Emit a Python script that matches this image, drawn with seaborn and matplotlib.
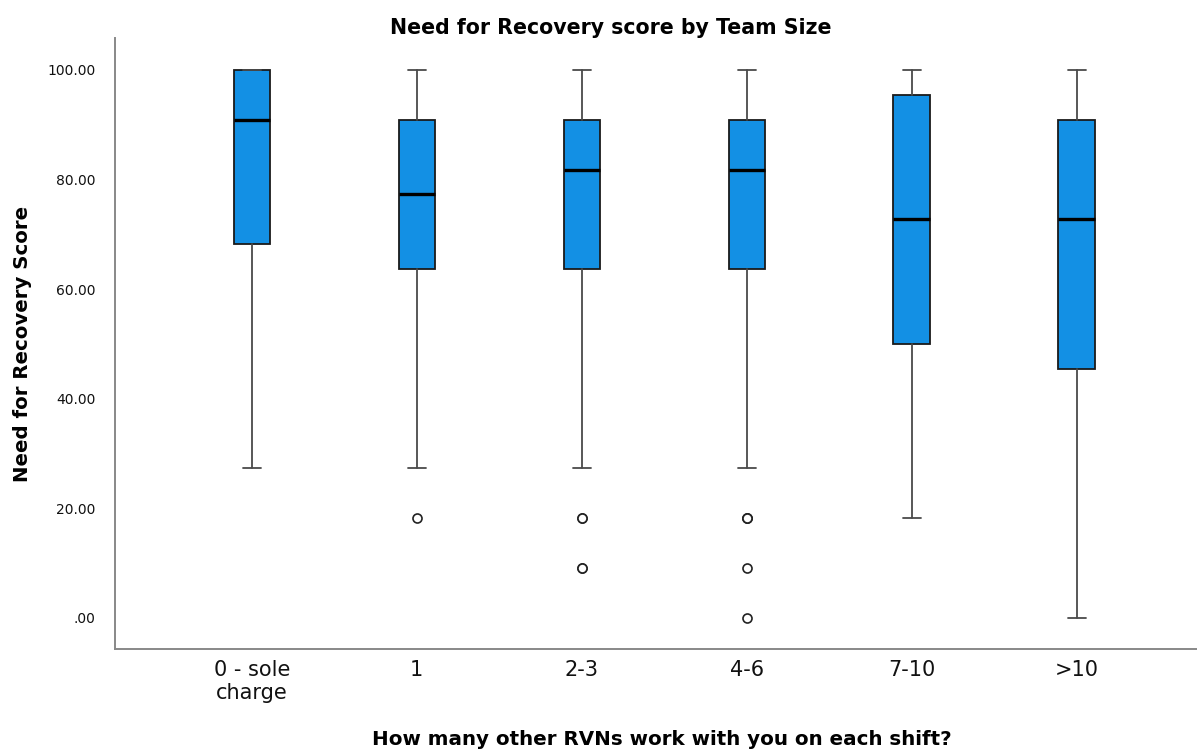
import matplotlib
matplotlib.use("Agg")
import matplotlib.pyplot as plt
import seaborn as sns

# Team-size groups and five-number summaries of the Need for Recovery score
categories = ["0 - sole\ncharge", "1", "2-3", "4-6", "7-10", ">10"]
whisker_low = [27.27, 27.27, 27.27, 27.27, 18.18, 0.00]
q1 = [68.18, 63.64, 63.64, 63.64, 50.00, 45.45]
median = [90.91, 77.27, 81.82, 81.82, 72.73, 72.73]
q3 = [100.00, 90.91, 90.91, 90.91, 95.45, 90.91]
whisker_high = [100.00, 100.00, 100.00, 100.00, 100.00, 100.00]
outliers = [
    [],
    [18.18],
    [18.18, 18.18, 9.09, 9.09],
    [18.18, 18.18, 18.18, 9.09, 0.00],
    [],
    [],
]
y_ticks = [0, 20, 40, 60, 80, 100]
y_tick_labels = [".00", "20.00", "40.00", "60.00", "80.00", "100.00"]

sns.set_theme(style="white")
plt.rcParams["font.family"] = ["DejaVu Sans"]
plt.rcParams["text.color"] = "black"

fig = plt.figure(figsize=(11.97, 7.49), dpi=100)
ax = fig.add_axes([0.096, 0.1335, 0.904, 0.8155])

stats = [
    dict(med=m, q1=a, q3=b, whislo=lo, whishi=hi, fliers=f, label=c)
    for c, lo, a, m, b, hi, f in zip(categories, whisker_low, q1, median,
                                     q3, whisker_high, outliers)
]

box_color = "#1390E4"
ax.bxp(
    stats,
    positions=range(len(categories)),
    widths=0.22,
    patch_artist=True,
    showfliers=True,
    boxprops=dict(facecolor=box_color, edgecolor="#1a1a1a", linewidth=1.3),
    medianprops=dict(color="black", linewidth=2.4),
    whiskerprops=dict(color="#4a4a4a", linewidth=1.3),
    capprops=dict(color="#4a4a4a", linewidth=1.3),
    capwidths=0.11,
    flierprops=dict(marker="o", markerfacecolor="white",
                    markeredgecolor="#222222", markersize=6.5,
                    markeredgewidth=1.2, linestyle="none"),
)

ax.set_xlim(-0.83, 5.73)
ax.set_ylim(-5.7, 105.8)
ax.set_yticks(y_ticks)
ax.set_yticklabels(y_tick_labels, fontsize=10)
ax.set_xticks(range(len(categories)))
ax.set_xticklabels(categories, fontsize=15, linespacing=1.15)
ax.tick_params(axis="both", length=0, colors="#111111")
ax.tick_params(axis="y", pad=14)
ax.tick_params(axis="x", pad=8)

sns.despine(ax=ax, top=True, right=True)
for side in ("left", "bottom"):
    ax.spines[side].set_color("#888888")
    ax.spines[side].set_linewidth(1.4)

ax.set_title("Need for Recovery score by Team Size", fontsize=14.8,
             fontweight="bold", pad=3, color="black", x=0.458)
ax.set_ylabel("Need for Recovery Score", fontsize=14.2, fontweight="bold",
              color="black")
ax.set_xlabel("How many other RVNs work with you on each shift?",
              fontsize=14.3, fontweight="bold", color="black")
ax.yaxis.set_label_coords(-0.077, 0.5)
ax.xaxis.set_label_coords(0.505, -0.132)

fig.savefig("out.png", dpi=100)
